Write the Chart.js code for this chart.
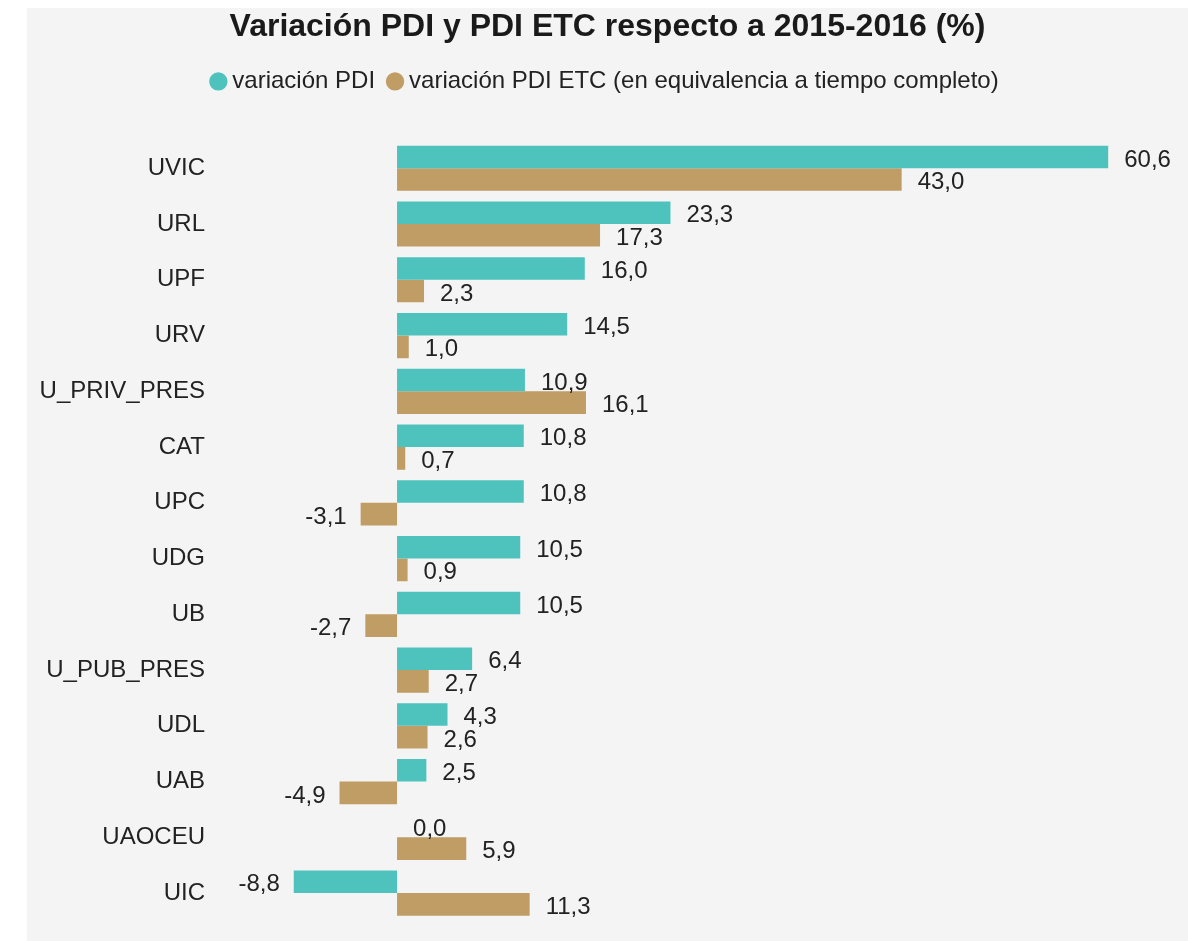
<!DOCTYPE html>
<html>
<head>
<meta charset="utf-8">
<script src="https://cdn.jsdelivr.net/npm/chart.js@4"></script>
<style>
    html, body { margin: 0; padding: 0; background: #ffffff; }
    #wrap { position: absolute; left: 27px; top: 8px; width: 1161px; height: 933px; background: #f4f4f4; }
</style>
</head>
<body>
<div id="wrap"><canvas id="chart"></canvas></div>
<script>
const categories = ['UVIC', 'URL', 'UPF', 'URV', 'U_PRIV_PRES', 'CAT', 'UPC', 'UDG', 'UB',
    'U_PUB_PRES', 'UDL', 'UAB', 'UAOCEU', 'UIC'];
const variacionPdi = [60.6, 23.3, 16.0, 14.5, 10.9, 10.8, 10.8, 10.5, 10.5, 6.4, 4.3, 2.5, 0.0, -8.8];
const variacionPdiEtc = [43.0, 17.3, 2.3, 1.0, 16.1, 0.7, -3.1, 0.9, -2.7, 2.7, 2.6, -4.9, 5.9, 11.3];

const TEAL = '#4ec3be';
const TAN = '#bf9d65';
const TEXT = '#222222';

Chart.defaults.font.family = '"Liberation Sans", Arial, sans-serif';
Chart.defaults.color = TEXT;

// value labels at the end of each bar, "," as decimal separator
const barLabels = {
    id: 'barLabels',
    afterDatasetsDraw(chart) {
        const ctx = chart.ctx;
        ctx.save();
        ctx.font = '24px "Liberation Sans", Arial, sans-serif';
        ctx.fillStyle = TEXT;
        ctx.textBaseline = 'middle';
        chart.data.datasets.forEach((ds, i) => {
            chart.getDatasetMeta(i).data.forEach((bar, j) => {
                const v = ds.data[j];
                const txt = v.toFixed(1).replace('.', ',');
                if (v < 0) {
                    ctx.textAlign = 'right';
                    ctx.fillText(txt, bar.x - 14, bar.y + 3);
                }
                else {
                    ctx.textAlign = 'left';
                    ctx.fillText(txt, bar.x + 16, bar.y + 3);
                }
            });
        });
        ctx.restore();
    }
};

// extra space between legend and bars
const legendGap = {
    id: 'legendGap',
    beforeInit(chart) {
        const fit = chart.legend.fit;
        chart.legend.fit = function() {
            fit.bind(chart.legend)();
            this.height += 37;
        };
    }
};

new Chart(document.getElementById('chart'), {
    type: 'bar',
    data: {
        labels: categories,
        datasets: [{
            label: 'variación PDI',
            data: variacionPdi,
            backgroundColor: TEAL,
            borderWidth: 0
        }, {
            label: 'variación PDI ETC (en equivalencia a tiempo completo)',
            data: variacionPdiEtc,
            backgroundColor: TAN,
            borderWidth: 0
        }]
    },
    options: {
        indexAxis: 'y',
        responsive: true,
        maintainAspectRatio: false,
        animation: false,
        categoryPercentage: 0.81,
        barPercentage: 1.0,
        layout: {
            padding: {top: 0, right: 0, bottom: 20, left: 0}
        },
        plugins: {
            title: {
                display: true,
                text: 'Variación PDI y PDI ETC respecto a 2015-2016 (%)',
                color: '#1a1a1a',
                font: {size: 32, weight: 'bold'},
                padding: {top: 0, bottom: 5}
            },
            legend: {
                display: true,
                position: 'top',
                labels: {
                    usePointStyle: true,
                    pointStyle: 'circle',
                    boxWidth: 4,
                    boxHeight: 13,
                    padding: 18,
                    color: TEXT,
                    font: {size: 24}
                }
            },
            tooltip: {enabled: false}
        },
        scales: {
            x: {
                display: false,
                min: -15,
                max: 67.4
            },
            y: {
                grid: {display: false, drawTicks: false},
                border: {display: false},
                afterFit(scale) {
                    scale.width = 194;
                    scale.paddingTop = 0;
                    scale.paddingBottom = 0;
                },
                ticks: {
                    padding: 16,
                    color: TEXT,
                    font: {size: 24}
                }
            }
        }
    },
    plugins: [barLabels, legendGap]
});
</script>
</body>
</html>
